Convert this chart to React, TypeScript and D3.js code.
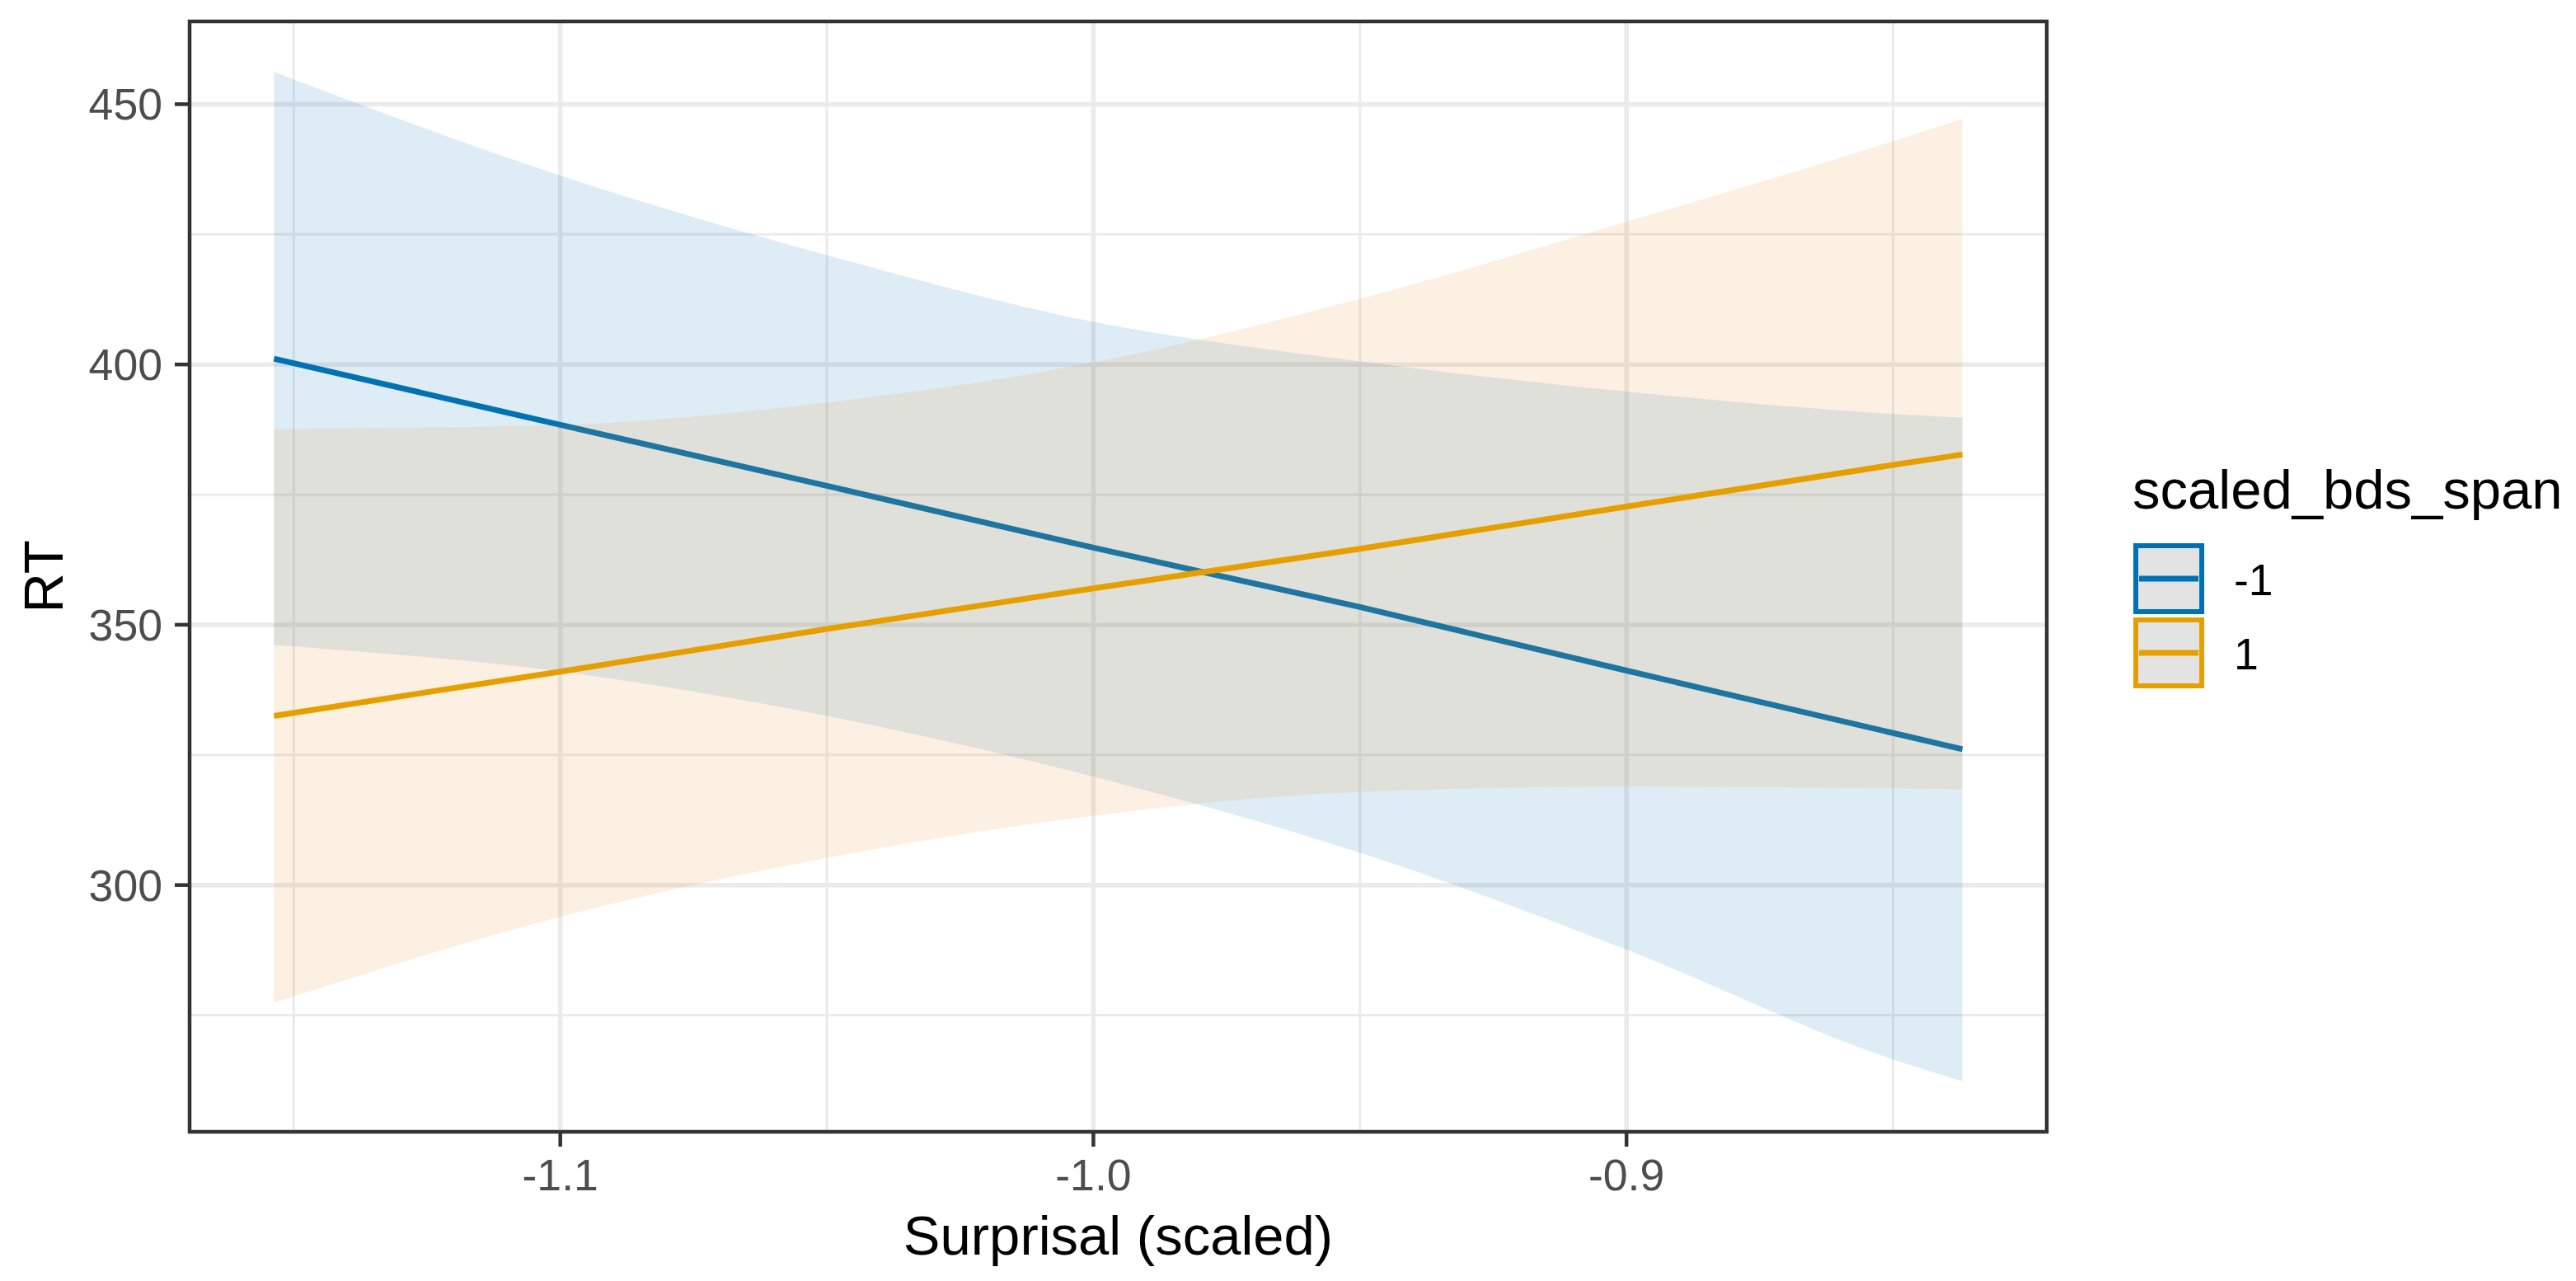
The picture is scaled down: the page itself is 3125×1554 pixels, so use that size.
import React from 'react'
import * as d3 from 'd3'

// fitted lines and 95% bands
const surprisal = [-1.1537, -1.1, -1.05, -1.0, -0.95, -0.9, -0.85, -0.837]
const blueFit = [401.1, 388.4, 376.7, 364.8, 353.4, 341.2, 329.2, 326.1]
const blueLower = [346.1, 341.0, 332.5, 320.8, 306.2, 287.6, 266.5, 262.3]
const blueUpper = [456.2, 436.3, 421.0, 408.2, 400.6, 394.8, 390.5, 389.8]
const orangeFit = [332.5, 341.0, 349.2, 357.0, 364.6, 372.7, 380.7, 382.7]
const orangeLower = [277.4, 293.9, 305.2, 313.3, 317.9, 318.9, 318.6, 318.4]
const orangeUpper = [387.6, 388.4, 392.7, 400.4, 412.6, 427.4, 442.9, 447.2]

const groups = ['-1', '1']
const xTicks = [-1.1, -1.0, -0.9]
const xTickLabels = ['-1.1', '-1.0', '-0.9']
const xMinor = [-1.15, -1.05, -0.95, -0.85]
const yTicks = [300, 350, 400, 450]
const yMinor = [275, 325, 375, 425]

const W = 3125
const H = 1554
const left = 230
const right = 2483
const top = 26
const bottom = 1373
const font = '"Liberation Sans", Arial, Helvetica, sans-serif'

const expand = (ext: [number, number]) => {
  const pad = (ext[1] - ext[0]) * 0.05
  return [ext[0] - pad, ext[1] + pad]
}

export default () => {
  const allY = [...blueLower, ...blueUpper, ...orangeLower, ...orangeUpper]
  const x = d3.scaleLinear().domain(expand(d3.extent(surprisal) as [number, number])).range([left, right])
  const y = d3.scaleLinear().domain(expand(d3.extent(allY) as [number, number])).range([bottom, top])

  const series = [
    { name: groups[0], color: '#0072B2', band: '#0072B2', fit: blueFit, lo: blueLower, hi: blueUpper },
    { name: groups[1], color: '#E69F00', band: '#EB8A1C', fit: orangeFit, lo: orangeLower, hi: orangeUpper },
  ]

  const band = d3
    .area<number>()
    .x((_, i) => x(surprisal[i]))
    .curve(d3.curveMonotoneX)

  const line = d3
    .line<number>()
    .x((_, i) => x(surprisal[i]))
    .y((d) => y(d))

  return (
    <svg width={W} height={H} style={{ position: 'absolute', left: 0, top: 0, background: '#fff' }} fontFamily={font}>
      <rect x={0} y={0} width={W} height={H} fill="#fff" />
      {/* grid */}
      {yMinor.map((v) => (
        <line key={'ym' + v} x1={left} x2={right} y1={y(v)} y2={y(v)} stroke="#EBEBEB" strokeWidth={3} />
      ))}
      {xMinor.map((v) => (
        <line key={'xm' + v} x1={x(v)} x2={x(v)} y1={top} y2={bottom} stroke="#EBEBEB" strokeWidth={3} />
      ))}
      {yTicks.map((v) => (
        <line key={'yg' + v} x1={left} x2={right} y1={y(v)} y2={y(v)} stroke="#EBEBEB" strokeWidth={5.5} />
      ))}
      {xTicks.map((v) => (
        <line key={'xg' + v} x1={x(v)} x2={x(v)} y1={top} y2={bottom} stroke="#EBEBEB" strokeWidth={5.5} />
      ))}

      {/* ribbons and lines, drawn group by group */}
      {series.map((s) => {
        const area = band.y0((_, i) => y(s.lo[i])).y1((_, i) => y(s.hi[i]))
        return (
          <g key={s.name}>
            <path d={area(s.fit) as string} fill={s.band} fillOpacity={0.13} />
            <path d={line(s.fit) as string} fill="none" stroke={s.color} strokeWidth={7} />
          </g>
        )
      })}

      {/* panel border */}
      <rect x={left} y={top} width={right - left} height={bottom - top} fill="none" stroke="#333333" strokeWidth={4.5} />

      {/* y axis */}
      {yTicks.map((v) => (
        <g key={'yt' + v}>
          <line x1={left - 18} x2={left} y1={y(v)} y2={y(v)} stroke="#333333" strokeWidth={4.5} />
          <text x={left - 33} y={y(v) + 19} textAnchor="end" fontSize={53.6} fill="#4D4D4D">
            {v}
          </text>
        </g>
      ))}
      <text transform={`translate(${76},${(top + bottom) / 2}) rotate(-90)`} textAnchor="middle" fontSize={67} fill="#000">
        RT
      </text>

      {/* x axis */}
      {xTicks.map((v, i) => (
        <g key={'xt' + v}>
          <line x1={x(v)} x2={x(v)} y1={bottom} y2={bottom + 18} stroke="#333333" strokeWidth={4.5} />
          <text x={x(v)} y={1444} textAnchor="middle" fontSize={53.6} fill="#4D4D4D">
            {xTickLabels[i]}
          </text>
        </g>
      ))}
      <text x={(left + right) / 2} y={1522} textAnchor="middle" fontSize={67} fill="#000">
        Surprisal (scaled)
      </text>

      {/* legend */}
      <text x={2587} y={617} fontSize={67} fill="#000">
        scaled_bds_span
      </text>
      {series.map((s, i) => (
        <g key={'lg' + s.name} transform={`translate(2591,${662 + i * 90})`}>
          <rect x={0} y={0} width={80} height={80} fill="#E3E3E3" stroke={s.color} strokeWidth={6} />
          <line x1={4} x2={76} y1={40} y2={40} stroke={s.color} strokeWidth={7} />
          <text x={119} y={60} fontSize={53.6} fill="#000">
            {s.name}
          </text>
        </g>
      ))}
    </svg>
  )
}
